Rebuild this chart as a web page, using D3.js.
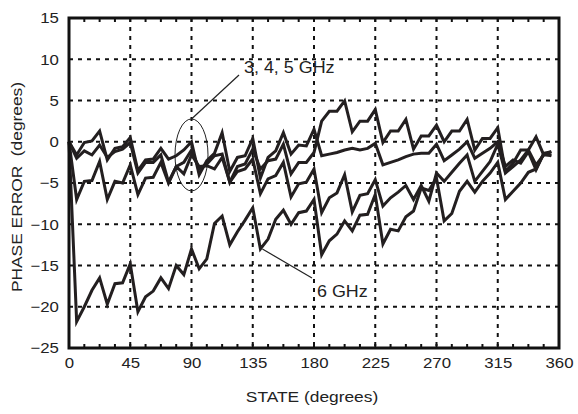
<!DOCTYPE html>
<html>
<head>
<meta charset="utf-8">
<script src="https://cdn.jsdelivr.net/npm/d3@7"></script>
<style>
  body { margin: 0; background: #fff; }
  text { font-family: "Liberation Sans", Arial, sans-serif; fill: #222; }
</style>
</head>
<body>
<script>
// phase states, 64 steps of 5.625 deg
const states = d3.range(64).map(i => i * 5.625);

// top line of the 3/4/5 GHz group (flat line after 180)
const lineA = [0,-1.6,-0.1,0.1,1.3, -2.2,-0.8,-0.6,0.5, -3.5,-2.2,-2.1,-0.8, -2.1,-1.7,-1.0,0.0,
  -4.0,-2.3,-1.4,1.1, -3.6,-1.9,-1.7,0.4, -4.4,-1.9,-1.1,1.1, -1.5,-0.4,-0.5,1.5,
  -1.7,-1.5,-1.3,-1.0, -0.8,-1.0,-0.8,-0.2, -2.8,-2.5,-2.2,-1.8, -1.5,-1.4,-1.4,-0.3,
  -2.3,-1.6,-0.9,0.0, -2.0,-1.4,-0.8,0.0, -3.0,-2.2,-2.6,-1.2, -3.4,-1.4,-1.2];
// middle line of the group (top hump after 180)
const lineB = [0,-2.0,-1.1,-1.6,-0.4, -1.9,-1.2,-0.9,-0.1, -3.8,-2.5,-2.5,-1.6, -4.9,-3.0,-2.5,-1.0,
  -3.3,-2.7,-1.7,-1.5, -4.9,-3.0,-2.7,-0.9, -3.3,-2.3,-2.1,-0.3, -3.9,-2.5,-2.5,-1.3,
  2.5,3.7,3.7,4.95, 1.2,2.5,2.5,3.9, -0.1,1.3,1.3,2.7, -0.9,0.7,0.7,2.0,
  0.0,1.3,1.3,2.7, -1.0,0.4,0.4,1.7, -3.6,-2.6,-1.0,-1.0, 0.6,-1.6,-1.2];
// lower line of the group
const lineC = [0,-7.0,-4.8,-4.7,-2.4, -7.0,-4.8,-5.0,-2.8, -6.4,-4.4,-4.3,-2.5, -5.0,-3.0,-3.9,-1.6,
  -3.0,-2.9,-3.3,-1.9, -4.9,-3.6,-3.3,-2.1, -6.3,-4.5,-4.1,-2.5, -6.7,-5.1,-4.9,-3.3,
  -8.6,-6.8,-6.2,-4.0, -8.5,-6.5,-6.3,-4.6, -7.8,-6.8,-6.1,-5.3, -7.0,-5.3,-7.2,-3.8,
  -4.8,-3.7,-2.6,-1.6, -4.8,-3.6,-2.4,-0.3, -3.8,-3.0,-2.2,-1.0, -2.8,-1.6,-1.6];
// 6 GHz
const line6 = [0,-21.8,-20,-18,-16.5, -19.7,-17.2,-17.1,-14.8, -20.6,-18.8,-18.1,-16.5, -17.8,-15,-16.1,-13,
  -15.4,-14.2,-9.9,-9, -12.5,-10.9,-9.5,-8, -13,-11.8,-9.4,-8.3, -10,-8.6,-8.4,-7,
  -13.7,-12,-11.2,-9.6, -10.8,-8.9,-8.8,-6.4, -12.4,-10.6,-10.8,-9.1, -8.4,-5.6,-5.9,-4.4,
  -9.6,-8.7,-6.0,-4.8, -6.1,-4.8,-3.8,-2.5, -7.0,-6.0,-5.0,-3.7, -3.3,-1.5,-1.7];

const xTicks = [0, 45, 90, 135, 180, 225, 270, 315, 360];
const yTicks = [-25, -20, -15, -10, -5, 0, 5, 10, 15];

const W = 578, H = 414;
const stretch = 'scale(1.12,1)';   // lettering in the figure is a little wide

const svg = d3.select('body').append('svg')
    .attr('width', W)
    .attr('height', H);

const x = d3.scaleLinear().domain([0, 360]).range([69, 559]);
const y = d3.scaleLinear().domain([-25, 15]).range([348, 18]);

// dashed grid
svg.append('g').selectAll('line')
    .data(xTicks.slice(1, -1))
    .enter().append('line')
    .attr('x1', d => x(d)).attr('x2', d => x(d))
    .attr('y1', y(15)).attr('y2', y(-25))
    .attr('stroke', '#111').attr('stroke-width', 2)
    .attr('stroke-dasharray', '4,5');

svg.append('g').selectAll('line')
    .data(yTicks.slice(1, -1))
    .enter().append('line')
    .attr('x1', x(0)).attr('x2', x(360))
    .attr('y1', d => y(d)).attr('y2', d => y(d))
    .attr('stroke', '#111').attr('stroke-width', 2)
    .attr('stroke-dasharray', '4,5');

// small ticks on top and bottom edges
const minor = d3.range(0, 361, 11.25);
svg.append('g').selectAll('line')
    .data(minor)
    .enter().append('line')
    .attr('x1', d => x(d)).attr('x2', d => x(d))
    .attr('y1', y(15)).attr('y2', y(15) + 4)
    .attr('stroke', '#111').attr('stroke-width', 2);
svg.append('g').selectAll('line')
    .data(minor)
    .enter().append('line')
    .attr('x1', d => x(d)).attr('x2', d => x(d))
    .attr('y1', y(-25)).attr('y2', y(-25) - 4)
    .attr('stroke', '#111').attr('stroke-width', 2);

// data lines
const line = d3.line()
    .x((d, i) => x(states[i]))
    .y(d => y(d));

svg.append('g').selectAll('path')
    .data([lineA, lineB, lineC, line6])
    .enter().append('path')
    .attr('d', line)
    .attr('fill', 'none')
    .attr('stroke', '#231f20')
    .attr('stroke-width', 3)
    .attr('stroke-linejoin', 'miter');

// frame
svg.append('rect')
    .attr('x', x(0)).attr('y', y(15))
    .attr('width', x(360) - x(0)).attr('height', y(-25) - y(15))
    .attr('fill', 'none').attr('stroke', '#111').attr('stroke-width', 3);

// axes labels
const xAxis = svg.append('g')
    .attr('transform', `translate(0,${y(-25)})`)
    .call(d3.axisBottom(x).tickValues(xTicks).tickSize(0).tickPadding(9));
xAxis.select('.domain').remove();
xAxis.selectAll('text').style('font-size', '15px').attr('fill', '#222')
    .attr('transform', stretch);

const yAxis = svg.append('g')
    .attr('transform', `translate(${x(0)},0)`)
    .call(d3.axisLeft(y).tickValues(yTicks).tickSize(0).tickPadding(9));
yAxis.select('.domain').remove();
yAxis.selectAll('text').style('font-size', '15px').attr('fill', '#222')
    .attr('transform', stretch);

svg.append('text')
    .attr('transform', `translate(312,402) ${stretch}`)
    .attr('text-anchor', 'middle')
    .style('font-size', '15.5px')
    .text('STATE (degrees)');

svg.append('text')
    .attr('transform', `translate(22,187) rotate(-90) ${stretch}`)
    .attr('text-anchor', 'middle')
    .style('font-size', '15.5px')
    .text('PHASE ERROR\u00a0\u00a0(degrees)');

// annotations
svg.append('ellipse')
    .attr('cx', x(90)).attr('cy', y(-1.6))
    .attr('rx', 16.5).attr('ry', 36)
    .attr('fill', 'none').attr('stroke', '#222').attr('stroke-width', 1);
svg.append('line')
    .attr('x1', x(90)).attr('y1', y(-1.6) - 36)
    .attr('x2', 239).attr('y2', 75)
    .attr('stroke', '#222').attr('stroke-width', 1.2);
svg.append('text')
    .attr('transform', `translate(244,73) ${stretch}`)
    .style('font-size', '16px')
    .text('3, 4, 5 GHz');

svg.append('line')
    .attr('x1', x(states[25]) + 2).attr('y1', y(line6[25]))
    .attr('x2', 312).attr('y2', 278)
    .attr('stroke', '#222').attr('stroke-width', 1.2);
svg.append('text')
    .attr('transform', `translate(317,297) ${stretch}`)
    .style('font-size', '16px')
    .text('6 GHz');
</script>
</body>
</html>
